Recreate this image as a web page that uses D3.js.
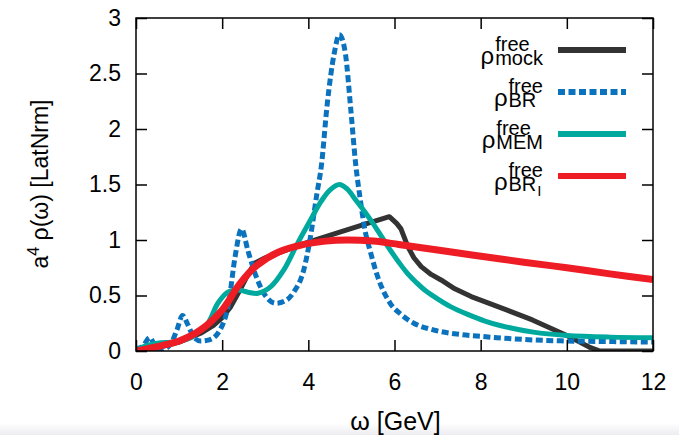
<!DOCTYPE html>
<html>
<head>
<meta charset="utf-8">
<script src="https://cdn.jsdelivr.net/npm/d3@7"></script>
<style>
  body { margin: 0; background: #fff; }
  svg text { font-family: "Liberation Sans", Arial, sans-serif; fill: #000; }
</style>
</head>
<body>
<div id="chart"></div>
<script>
// omega grids and values
const mockW = [0, 0.5, 1, 1.5, 1.8, 2.0, 2.2, 2.4, 2.6, 2.75, 3, 3.5, 4, 4.73, 5.3, 5.88, 6.05, 6.15, 6.31, 6.45, 6.62, 6.85, 7.08, 7.4, 7.78, 8.06, 8.6, 9.2, 9.6, 10, 10.3, 10.55, 10.77, 11, 12];
const mockV = [0, 0.03, 0.08, 0.16, 0.23, 0.3, 0.4, 0.54, 0.69, 0.79, 0.84, 0.91, 0.98, 1.07, 1.14, 1.21, 1.15, 1.1, 0.94, 0.84, 0.76, 0.69, 0.64, 0.56, 0.49, 0.45, 0.37, 0.28, 0.21, 0.14, 0.08, 0.03, 0, 0, 0];

const brW = [0, 0.15, 0.32, 0.45, 0.6, 0.8, 0.95, 1.08, 1.2, 1.35, 1.5, 1.7, 1.95, 2.15, 2.3, 2.45, 2.6, 2.8, 3.0, 3.25, 3.5, 3.66, 3.9, 4.05, 4.2, 4.3, 4.44, 4.6, 4.72, 4.86, 4.98, 5.1, 5.2, 5.3, 5.45, 5.6, 5.9, 6.15, 6.45, 6.9, 7.5, 8.06, 9.2, 10, 11, 12];
const brV = [0.02, 0.04, 0.12, 0.04, 0.01, 0.06, 0.19, 0.32, 0.24, 0.12, 0.09, 0.1, 0.19, 0.43, 0.85, 1.1, 0.9, 0.66, 0.5, 0.43, 0.46, 0.53, 0.74, 1.03, 1.42, 1.66, 2.23, 2.68, 2.85, 2.68, 2.2, 1.68, 1.38, 1.12, 0.88, 0.68, 0.43, 0.33, 0.25, 0.19, 0.15, 0.13, 0.1, 0.09, 0.085, 0.08];

const memW = [0, 0.12, 0.5, 0.8, 1.0, 1.27, 1.5, 1.67, 1.9, 2.13, 2.36, 2.6, 2.83, 3.13, 3.43, 3.75, 4.05, 4.3, 4.5, 4.72, 4.9, 5.1, 5.3, 5.5, 5.7, 5.9, 6.1, 6.3, 6.5, 6.7, 7.0, 7.3, 7.7, 8.1, 8.45, 9.22, 10, 11, 12];
const memV = [0, 0.03, 0.07, 0.08, 0.09, 0.12, 0.19, 0.25, 0.43, 0.53, 0.55, 0.53, 0.52, 0.58, 0.73, 0.97, 1.18, 1.35, 1.45, 1.5, 1.46, 1.36, 1.26, 1.15, 1.03, 0.91, 0.8, 0.7, 0.62, 0.55, 0.47, 0.4, 0.33, 0.27, 0.23, 0.17, 0.14, 0.125, 0.12];

const briW = [0, 0.5, 1, 1.5, 2, 2.4, 2.8, 3.3, 3.9, 4.4, 4.9, 5.5, 6.1, 7, 7.8, 9, 10, 11, 12];
const briV = [0, 0.04, 0.09, 0.19, 0.37, 0.6, 0.77, 0.89, 0.96, 0.99, 1.0, 0.99, 0.96, 0.91, 0.865, 0.8, 0.75, 0.695, 0.645];

const xTicks = [0, 2, 4, 6, 8, 10, 12];
const yTicks = [0, 0.5, 1, 1.5, 2, 2.5, 3];

const series = [
  { w: mockW, v: mockV, color: "#333333", width: 5, dash: null, curve: d3.curveLinear, sub: "mock" },
  { w: brW, v: brV, color: "#0b72bd", width: 5, dash: "7,3.5", curve: d3.curveMonotoneX, sub: "BR" },
  { w: memW, v: memV, color: "#00a99d", width: 5, dash: null, curve: d3.curveCatmullRom.alpha(0.5), sub: "MEM" },
  { w: briW, v: briV, color: "#ee1c25", width: 7, dash: null, curve: d3.curveCatmullRom.alpha(0.5), sub: "BR", subsub: "I" }
];

const svg = d3.select("#chart").append("svg")
  .attr("width", 679)
  .attr("height", 435);

// faint band at the very bottom of the picture
const grad = svg.append("defs").append("linearGradient")
  .attr("id", "band").attr("x1", 0).attr("y1", 0).attr("x2", 0).attr("y2", 1);
grad.append("stop").attr("offset", "0").attr("stop-color", "#ffffff");
grad.append("stop").attr("offset", "1").attr("stop-color", "#ededf1");
svg.append("rect")
  .attr("x", 0).attr("y", 423).attr("width", 679).attr("height", 12)
  .attr("fill", "url(#band)");

const plotL = 136, plotR = 653, plotT = 18, plotB = 351;

const x = d3.scaleLinear().domain([0, 12]).range([plotL, plotR]);
const y = d3.scaleLinear().domain([0, 3]).range([plotB, plotT]);

svg.append("clipPath").attr("id", "clip")
  .append("rect")
  .attr("x", plotL).attr("y", plotT)
  .attr("width", plotR - plotL).attr("height", plotB - plotT);

// curves
series.forEach(s => {
  const line = d3.line()
    .x(d => x(d[0]))
    .y(d => y(d[1]))
    .curve(s.curve);
  svg.append("path")
    .attr("clip-path", "url(#clip)")
    .attr("d", line(s.w.map((w, i) => [w, s.v[i]])))
    .attr("fill", "none")
    .attr("stroke", s.color)
    .attr("stroke-width", s.width)
    .attr("stroke-dasharray", s.dash)
    .attr("stroke-linejoin", "round");
});

// axes: inward ticks on all four sides
const tickLen = 11;
const fmt = d => String(d);
svg.append("g")
  .attr("transform", `translate(0,${plotB})`)
  .call(d3.axisBottom(x).tickValues(xTicks).tickSize(-tickLen).tickPadding(23).tickFormat(fmt))
  .call(g => g.select(".domain").remove())
  .selectAll("text").style("font-size", "23px");

svg.append("g")
  .attr("transform", `translate(0,${plotT})`)
  .call(d3.axisTop(x).tickValues(xTicks).tickSize(-tickLen).tickFormat(""))
  .call(g => g.select(".domain").remove());

svg.append("g")
  .attr("transform", `translate(${plotL},0)`)
  .call(d3.axisLeft(y).tickValues(yTicks).tickSize(-tickLen).tickPadding(15).tickFormat(fmt))
  .call(g => g.select(".domain").remove())
  .selectAll("text").style("font-size", "23px");

svg.append("g")
  .attr("transform", `translate(${plotR},0)`)
  .call(d3.axisRight(y).tickValues(yTicks).tickSize(-tickLen).tickFormat(""))
  .call(g => g.select(".domain").remove());

svg.selectAll(".tick line").attr("stroke", "#000").attr("stroke-width", 1.5);

svg.append("rect")
  .attr("x", plotL).attr("y", plotT)
  .attr("width", plotR - plotL).attr("height", plotB - plotT)
  .attr("fill", "none")
  .attr("stroke", "#000")
  .attr("stroke-width", 1.5);

// legend
const legY = [50, 92, 134, 176];
const textRight = 543;
const measure = svg.append("text").attr("visibility", "hidden");
const textWidth = (str, size) => {
  measure.style("font-size", size + "px").text(str);
  return measure.node().getComputedTextLength();
};

series.forEach((s, i) => {
  const ly = legY[i];
  svg.append("line")
    .attr("x1", 558).attr("x2", 626)
    .attr("y1", ly).attr("y2", ly)
    .attr("stroke", s.color)
    .attr("stroke-width", 6)
    .attr("stroke-dasharray", s.dash);

  const wSup = textWidth("free", 20);
  const wMain = textWidth(s.sub, 20);
  const wSS = s.subsub ? textWidth(s.subsub, 15) + 1 : 0;
  const x0 = textRight - Math.max(wSup, wMain + wSS);
  const wRho = textWidth("ρ", 24);

  const t = svg.append("text");
  t.append("tspan").attr("x", x0 - wRho - 1).attr("y", ly + 14).style("font-size", "24px").text("ρ");
  t.append("tspan").attr("x", x0).attr("y", ly + 1).style("font-size", "20px").text("free");
  t.append("tspan").attr("x", x0).attr("y", ly + 15).style("font-size", "20px").text(s.sub);
  if (s.subsub) {
    t.append("tspan").attr("x", x0 + wMain + 1).attr("y", ly + 20).style("font-size", "15px").text(s.subsub);
  }
});
measure.remove();

// axis labels
svg.append("text")
  .attr("x", (plotL + plotR) / 2 + 1)
  .attr("y", 430)
  .attr("text-anchor", "middle")
  .style("font-size", "25px")
  .text("ω [GeV]");

const yl = svg.append("text")
  .attr("transform", "translate(48,184) rotate(-90)")
  .attr("text-anchor", "middle")
  .style("font-size", "23px");
yl.append("tspan").text("a");
yl.append("tspan").attr("dy", -9).style("font-size", "16px").text("4");
yl.append("tspan").attr("dy", 9).text(" ρ(ω) [LatNrm]");
</script>
</body>
</html>
